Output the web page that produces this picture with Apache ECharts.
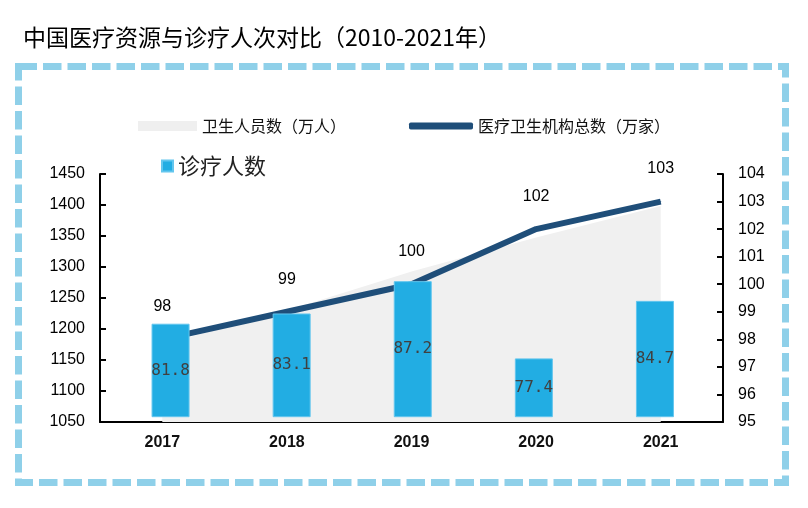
<!DOCTYPE html>
<html lang="zh">
<head>
    <meta charset="UTF-8">
    <title>中国医疗资源与诊疗人次对比</title>
    <script src="https://cdn.jsdelivr.net/npm/echarts@6/dist/echarts.min.js"></script>
    <style>
        body { margin: 0; padding: 0; background: #fff; }
        #chart { width: 808px; height: 508px; }
    </style>
</head>
<body>
<div id="chart"></div>
<script>
    // 数据
    const years = ['2017', '2018', '2019', '2020', '2021'];
    const staff = [1174.9, 1230.0, 1292.8, 1347.5, 1398.3];      // 卫生人员数（万人）
    const institutions = [98, 99, 100, 102, 103];              // 医疗卫生机构总数（万家）
    const visits = [81.8, 83.1, 87.2, 77.4, 84.7];             // 诊疗人数（亿人次）

    const cjk = '"Noto Sans CJK SC", sans-serif';
    const latin = '"Liberation Sans", Arial, sans-serif';

    const chart = echarts.init(document.getElementById('chart'));
    const option = {
        backgroundColor: '#fff',
        animation: false,
        title: {
            text: '中国医疗资源与诊疗人次对比（2010-2021年）',
            left: 18,
            top: 21,
            textStyle: { fontFamily: cjk, fontSize: 23, fontWeight: 'normal', color: '#000' }
        },
        graphic: [{
            type: 'rect',
            shape: { x: 18.5, y: 66.5, width: 767, height: 416 },
            style: { fill: 'none', stroke: '#8fd0e9', lineWidth: 7, lineDash: [18.5, 6] },
            silent: true
        }],
        legend: [
            {
                data: ['卫生人员数（万人）'],
                left: 133, top: 113,
                icon: 'rect', itemWidth: 59, itemHeight: 10,
                textStyle: { fontFamily: cjk, fontSize: 16, color: '#111' }
            },
            {
                data: ['医疗卫生机构总数（万家）'],
                left: 404, top: 113,
                icon: 'roundRect', itemWidth: 64, itemHeight: 7,
                textStyle: { fontFamily: cjk, fontSize: 16, color: '#111' }
            },
            {
                data: ['诊疗人数'],
                left: 156, top: 150,
                icon: 'rect', itemWidth: 11, itemHeight: 11,
                textStyle: { fontFamily: cjk, fontSize: 22, color: '#222' }
            }
        ],
        grid: [
            { left: 100, right: 85, top: 174, bottom: 86 },
            { left: 110, right: 92.5, top: 174, bottom: 91.3 }
        ],
        xAxis: [
            {
                type: 'category', data: years, gridIndex: 0,
                axisLine: { lineStyle: { color: '#000', width: 2 } },
                axisTick: { inside: true, length: 6, lineStyle: { color: '#000', width: 2 } },
                axisLabel: { fontFamily: latin, fontSize: 16, fontWeight: 'bold', color: '#111', margin: 13 }
            },
            {
                type: 'category', data: years, gridIndex: 1, show: false
            }
        ],
        yAxis: [
            {
                type: 'value', gridIndex: 0, min: 1050, max: 1450, interval: 50,
                axisLine: { show: true, lineStyle: { color: '#000', width: 2 } },
                axisTick: { show: true, inside: true, length: 6, lineStyle: { color: '#000', width: 2 } },
                axisLabel: { fontFamily: latin, fontSize: 16, color: '#000', margin: 15, formatter: v => String(v) },
                splitLine: { show: false }
            },
            {
                type: 'value', gridIndex: 0, position: 'right', min: 95, max: 104, interval: 1,
                axisLine: { show: true, lineStyle: { color: '#000', width: 2 } },
                axisTick: { show: true, inside: true, length: 6, lineStyle: { color: '#000', width: 2 } },
                axisLabel: { fontFamily: latin, fontSize: 16, color: '#000', margin: 15 },
                splitLine: { show: false }
            },
            {
                type: 'value', gridIndex: 1, min: 70, max: 100.8, show: false,
                splitLine: { show: false }
            }
        ],
        series: [
            {
                name: '卫生人员数（万人）',
                type: 'line',
                xAxisIndex: 0, yAxisIndex: 0,
                data: staff,
                symbol: 'none',
                lineStyle: { width: 0 },
                itemStyle: { color: '#efefef' },
                areaStyle: { color: '#f0f0f0', opacity: 1 },
                z: 1
            },
            {
                name: '医疗卫生机构总数（万家）',
                type: 'line',
                xAxisIndex: 0, yAxisIndex: 1,
                data: institutions,
                symbol: 'circle',
                symbolSize: 1,
                showSymbol: true,
                lineStyle: { width: 6, color: '#1f4e79' },
                itemStyle: { color: '#1f4e79' },
                label: {
                    show: true, position: 'top', distance: 24,
                    fontFamily: latin, fontSize: 16, color: '#000'
                },
                z: 2
            },
            {
                name: '诊疗人数',
                type: 'bar',
                xAxisIndex: 1, yAxisIndex: 2,
                data: visits,
                barWidth: 38,
                itemStyle: { color: '#22ade3', borderColor: '#63c6ee', borderWidth: 1 },
                label: {
                    show: true, position: 'inside',
                    fontFamily: '"DejaVu Sans Mono", monospace', fontSize: 16, color: '#404040'
                },
                z: 3
            }
        ]
    };
    chart.setOption(option);
</script>
</body>
</html>
